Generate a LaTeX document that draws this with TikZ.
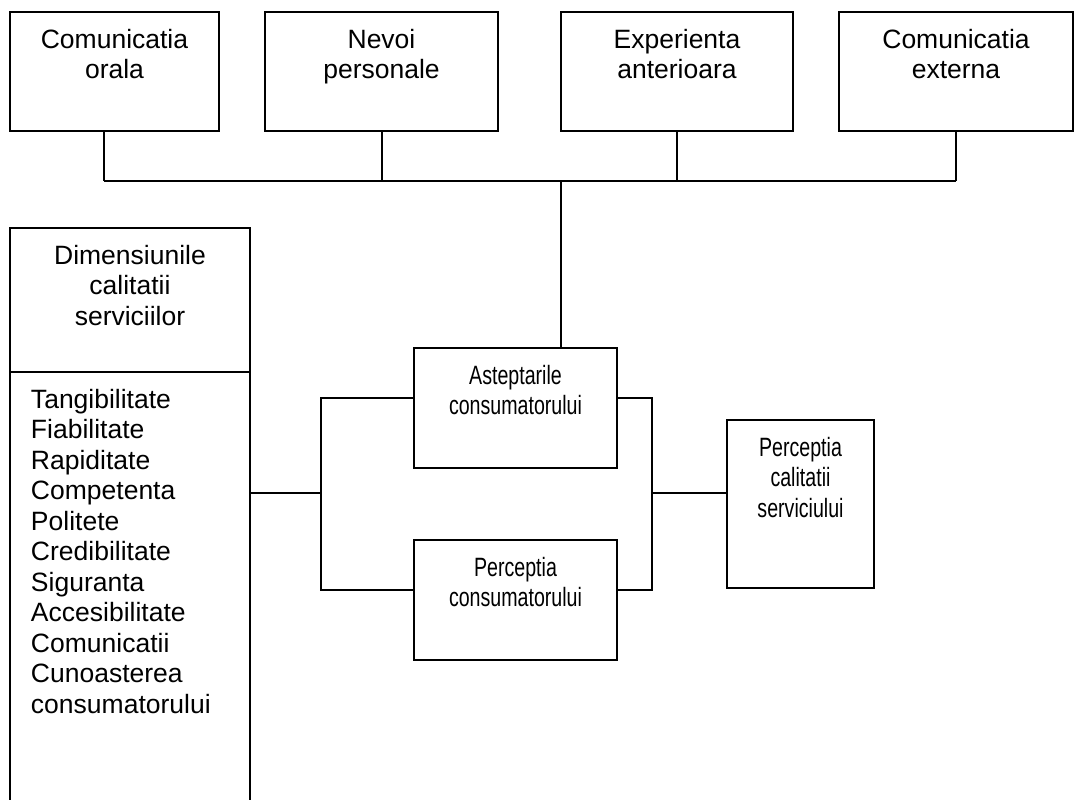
\documentclass[tikz,border=0pt]{standalone}
\usepackage{fontspec}
\setmainfont{Liberation Sans}
\newfontfamily\narrowfont[FakeStretch=0.74]{Liberation Sans}
\newcommand{\cell}[3]{\parbox[c][#2][t]{#1}{\centering\rule{0pt}{18pt}#3}}
\newcommand{\listcell}[3]{\parbox[c][#2][t]{#1}{\raggedright\leftskip=10.5pt\rule{0pt}{18pt}#3}}
\tikzset{
  cell/.style={draw, line width=1pt, inner sep=0pt, anchor=north west},
  wire/.style={line width=1pt}
}
\begin{document}
\begin{tikzpicture}[x=0.5pt, y=-0.5pt, font=\fontsize{13.25}{15.25}\selectfont]
  \clip (0,0) rectangle (1081,799);
  % Sources
  \node[cell] (orala) at (9,11) {\cell{104.5pt}{59.5pt}{Comunicatia\\orala}};
  \node[cell] (nevoi) at (264,11) {\cell{116.5pt}{59.5pt}{Nevoi\\personale}};
  \node[cell] (experienta) at (560,11) {\cell{116pt}{59.5pt}{Experienta\\anterioara}};
  \node[cell] (externa) at (838,11) {\cell{117pt}{59.5pt}{Comunicatia\\externa}};
  % Dimensions
  \node[cell] (dimensiuni) at (9,227) {\cell{120pt}{72pt}{Dimensiunile\\calitatii\\serviciilor}};
  \node[cell] (lista) at (9,371) {\listcell{120pt}{220pt}{Tangibilitate\\Fiabilitate\\Rapiditate\\Competenta\\Politete\\Credibilitate\\Siguranta\\Accesibilitate\\Comunicatii\\Cunoasterea\\consumatorului}};
  % Comparison
  \node[cell] (asteptari) at (413,347) {\cell{101.5pt}{60pt}{\narrowfont Asteptarile\\consumatorului}};
  \node[cell] (perceptie) at (413,539) {\cell{101.5pt}{60pt}{\narrowfont Perceptia\\consumatorului}};
  \node[cell] (calitate) at (726,419) {\cell{73.5pt}{84pt}{\narrowfont Perceptia\\calitatii\\serviciului}};
  % Bus
  \coordinate (bus) at (561,181);
  \coordinate (split) at (321,493);
  \coordinate (join) at (652,493);
  \foreach \b/\dx in {orala/-5.5,nevoi/0,experienta/0,externa/0}
    {\draw[wire] ([xshift=\dx pt]\b.south) -- ([xshift=\dx pt]\b.south |- bus);}
  \draw[wire] ([xshift=-5.5pt]orala.south |- bus) -- (externa.south |- bus);
  \draw[wire] (bus) -- (bus |- asteptari.north);
  % Left and right brackets
  \draw[wire] (split -| lista.east) -- (split);
  \draw[wire] ([yshift=5pt]asteptari.west) -| (split) |- ([yshift=5pt]perceptie.west);
  \draw[wire] ([yshift=5pt]asteptari.east) -| (join) |- ([yshift=5pt]perceptie.east);
  \draw[wire] (join) -- (join -| calitate.west);
\end{tikzpicture}
\end{document}
